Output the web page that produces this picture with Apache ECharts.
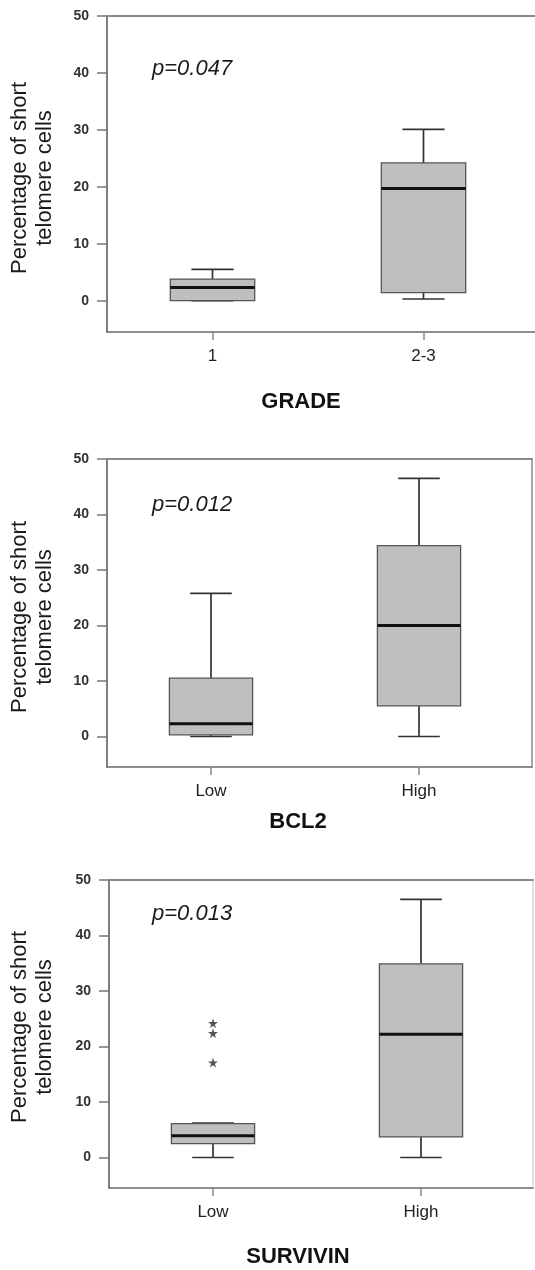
<!DOCTYPE html>
<html>
<head>
<meta charset="utf-8">
<script src="https://cdn.jsdelivr.net/npm/echarts@6/dist/echarts.min.js"></script>
<style>
html,body{margin:0;padding:0;background:#fff;}
#chart{width:535px;height:1270px;}
</style>
</head>
<body>
<div id="chart"></div>
<script>
// ---- data ----
const gradeCategories = ['1', '2-3'];
// [min, Q1, median, Q3, max]
const gradeBoxes = [[0, 0, 2.3, 3.8, 5.5], [0.3, 1.4, 19.7, 24.2, 30.1]];
const bcl2Categories = ['Low', 'High'];
const bcl2Boxes = [[0, 0.3, 2.3, 10.5, 25.8], [0, 5.5, 20.0, 34.4, 46.5]];
const survivinCategories = ['Low', 'High'];
const survivinBoxes = [[0, 2.5, 3.9, 6.1, 6.2], [0, 3.7, 22.2, 34.9, 46.5]];
const survivinOutlierCategory = ['Low', 'Low', 'Low'];
const survivinOutliers = [24.2, 22.4, 17.1];
const yTicks = [0, 10, 20, 30, 40, 50];
const pValues = ['p=0.047', 'p=0.012', 'p=0.013'];
const panelTitles = ['GRADE', 'BCL2', 'SURVIVIN'];
const yAxisTitle = 'Percentage of short\ntelomere cells';

// ---- layout ----
const panels = [
  {cats: gradeCategories, boxes: gradeBoxes, left: 107, top: 16, width: 432, height: 316, unit: 211, right: false,
   pY: 69, titleX: 301, titleY: 402, nameY: 178},
  {cats: bcl2Categories, boxes: bcl2Boxes, left: 107, top: 459, width: 425, height: 308, unit: 208, right: true,
   pY: 505, titleX: 298, titleY: 822, nameY: 617},
  {cats: survivinCategories, boxes: survivinBoxes, left: 109, top: 880, width: 424, height: 308, unit: 208, right: true,
   pY: 914, titleX: 298, titleY: 1257, nameY: 1027}
];
const FONT = '"Liberation Sans", Arial, Helvetica, sans-serif';
const AXIS_COLOR = '#6a6a6a';

const grids = [], xAxes = [], yAxes = [], series = [], graphics = [];

panels.forEach((p, i) => {
  const xMin = -0.5;
  const xMax = xMin + p.width / p.unit;
  grids.push({left: p.left, top: p.top, width: p.width, height: p.height, outerBoundsMode: 'none', containLabel: false});
  xAxes.push({
    type: 'value', gridIndex: i, min: xMin, max: xMax, position: 'bottom',
    axisLine: {show: true, onZero: false, lineStyle: {color: AXIS_COLOR, width: 1.5}},
    axisTick: {show: true, customValues: [0, 1], length: 8, lineStyle: {color: '#888', width: 1.5}},
    axisLabel: {customValues: [0, 1], formatter: v => p.cats[Math.round(v)], margin: 16,
      fontFamily: FONT, fontSize: 17, color: '#222'},
    splitLine: {show: false}
  });
  xAxes.push({
    type: 'value', gridIndex: i, min: xMin, max: xMax, position: 'top',
    axisLine: {show: true, onZero: false, lineStyle: {color: '#8a8a8a', width: 2}},
    axisTick: {show: false}, axisLabel: {show: false}, splitLine: {show: false}
  });
  yAxes.push({
    type: 'value', gridIndex: i, min: -5.5, max: 50, position: 'left',
    axisLine: {show: true, onZero: false, lineStyle: {color: '#555', width: 1.5}},
    axisTick: {show: true, customValues: yTicks, length: 10, lineStyle: {color: '#777', width: 1.5}},
    axisLabel: {customValues: yTicks, margin: 18, fontFamily: FONT, fontSize: 14, fontWeight: 'bold', color: '#333'},
    splitLine: {show: false}
  });
  yAxes.push({
    type: 'value', gridIndex: i, min: -5.5, max: 50, position: 'right',
    show: p.right,
    axisLine: {show: p.right, onZero: false, lineStyle: {color: i === 2 ? '#d8d8d8' : '#8a8a8a', width: 1.5}},
    axisTick: {show: false}, axisLabel: {show: false}, splitLine: {show: false}
  });

  series.push({
    type: 'custom',
    xAxisIndex: 2 * i, yAxisIndex: 2 * i,
    data: p.boxes.map((b, idx) => [idx].concat(b)),
    encode: {x: 0, y: [1, 2, 3, 4, 5]},
    renderItem: function (params, api) {
      const x = api.value(0);
      const lo = api.coord([x, api.value(1)]);
      const q1 = api.coord([x, api.value(2)]);
      const md = api.coord([x, api.value(3)]);
      const q3 = api.coord([x, api.value(4)]);
      const hi = api.coord([x, api.value(5)]);
      const unit = api.size([1, 0])[0];
      const bw = unit * 0.4, cw = unit * 0.2;
      const cx = md[0];
      const whisk = {stroke: '#333', lineWidth: 1.7};
      return {
        type: 'group',
        children: [
          {type: 'line', shape: {x1: cx, y1: hi[1], x2: cx, y2: q3[1]}, style: whisk},
          {type: 'line', shape: {x1: cx, y1: q1[1], x2: cx, y2: lo[1]}, style: whisk},
          {type: 'line', shape: {x1: cx - cw / 2, y1: hi[1], x2: cx + cw / 2, y2: hi[1]}, style: whisk},
          {type: 'line', shape: {x1: cx - cw / 2, y1: lo[1], x2: cx + cw / 2, y2: lo[1]}, style: whisk},
          {type: 'rect', shape: {x: cx - bw / 2, y: q3[1], width: bw, height: q1[1] - q3[1]},
            style: {fill: '#bfbfbf', stroke: '#555', lineWidth: 1.3}},
          {type: 'line', shape: {x1: cx - bw / 2, y1: md[1], x2: cx + bw / 2, y2: md[1]},
            style: {stroke: '#111', lineWidth: 3}}
        ]
      };
    }
  });

  graphics.push({
    type: 'text', x: 152, y: p.pY,
    style: {text: pValues[i], font: 'italic 22px ' + FONT, fill: '#1a1a1a', textAlign: 'left', textVerticalAlign: 'middle'}
  });
  graphics.push({
    type: 'text', x: p.titleX, y: p.titleY,
    style: {text: panelTitles[i], font: 'bold 22px ' + FONT, fill: '#111', textAlign: 'center', textVerticalAlign: 'middle'}
  });
  graphics.push({
    type: 'text', x: 32, y: p.nameY, rotation: Math.PI / 2,
    style: {text: yAxisTitle, font: '22px ' + FONT, lineHeight: 25, fill: '#1a1a1a', textAlign: 'center', textVerticalAlign: 'middle'}
  });
});

series.push({
  type: 'scatter',
  xAxisIndex: 4, yAxisIndex: 4,
  data: survivinOutliers.map((v, k) => [survivinCategories.indexOf(survivinOutlierCategory[k]), v]),
  symbol: 'path://M50,0 L61,35 L98,35 L68,57 L79,91 L50,70 L21,91 L32,57 L2,35 L39,35 Z',
  symbolSize: 10,
  itemStyle: {color: '#2a2a2a'},
  silent: true
});

const chart = echarts.init(document.getElementById('chart'), null, {renderer: 'canvas'});
chart.setOption({
  backgroundColor: '#fff',
  animation: false,
  grid: grids,
  xAxis: xAxes,
  yAxis: yAxes,
  series: series,
  graphic: graphics
});
</script>
</body>
</html>
